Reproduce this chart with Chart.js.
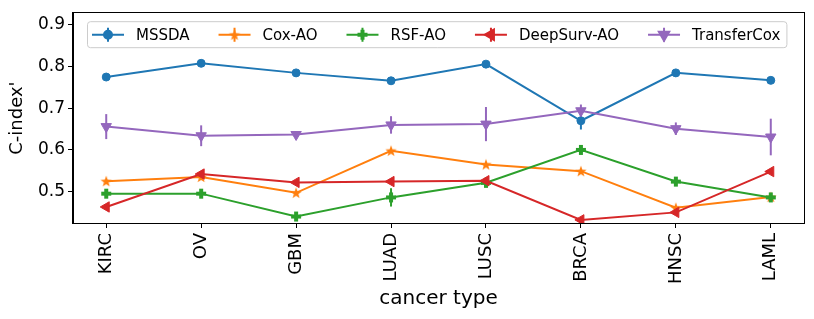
<!DOCTYPE html>
<html>
<head>
<meta charset="utf-8">
<script src="https://cdn.jsdelivr.net/npm/chart.js@4.4.0/dist/chart.umd.min.js"></script>
<style>
  html, body { margin: 0; padding: 0; background: #fff; }
</style>
</head>
<body>
<canvas id="cindex-chart" width="814" height="319"></canvas>
<script>
const cancerTypes = ['KIRC', 'OV', 'GBM', 'LUAD', 'LUSC', 'BRCA', 'HNSC', 'LAML'];

const mssda = [0.775, 0.808, 0.785, 0.766, 0.806, 0.670, 0.785, 0.767];
const mssdaErr = [0.004, 0.004, 0.004, 0.004, 0.004, 0.021, 0.004, 0.004];
const coxAO = [0.525, 0.535, 0.497, 0.598, 0.565, 0.549, 0.461, 0.487];
const coxAOErr = [0.004, 0.004, 0.004, 0.004, 0.004, 0.004, 0.004, 0.004];
const rsfAO = [0.495, 0.495, 0.440, 0.486, 0.521, 0.600, 0.524, 0.486];
const rsfAOErr = [0.005, 0.005, 0.005, 0.022, 0.006, 0.006, 0.005, 0.005];
const deepSurvAO = [0.463, 0.542, 0.522, 0.524, 0.526, 0.432, 0.450, 0.548];
const deepSurvAOErr = [0.003, 0.003, 0.003, 0.003, 0.003, 0.003, 0.003, 0.003];
const transferCox = [0.656, 0.634, 0.637, 0.660, 0.662, 0.694, 0.651, 0.631];
const transferCoxErr = [0.030, 0.025, 0.005, 0.021, 0.041, 0.015, 0.015, 0.044];

const yTicks = [0.5, 0.6, 0.7, 0.8, 0.9];

const FONT = '"DejaVu Sans", sans-serif';

// filled marker shapes that chart.js doesn't have
function starMarker(color) {
  const c = document.createElement('canvas');
  c.width = 14; c.height = 14;
  const g = c.getContext('2d');
  g.fillStyle = color;
  g.beginPath();
  for (let i = 0; i < 10; i++) {
    const r = i % 2 === 0 ? 6 : 2.4;
    const a = -Math.PI / 2 + i * Math.PI / 5;
    g.lineTo(7 + r * Math.cos(a), 7.5 + r * Math.sin(a));
  }
  g.closePath();
  g.fill();
  return c;
}

function plusMarker(color) {
  const c = document.createElement('canvas');
  c.width = 12; c.height = 12;
  const g = c.getContext('2d');
  g.fillStyle = color;
  g.fillRect(4, 1, 4, 10);
  g.fillRect(1, 4, 10, 4);
  return c;
}

const toPoints = (vals) => vals.map((v, i) => ({ x: i, y: v }));

const series = [
  { label: 'MSSDA', data: mssda, errors: mssdaErr, color: '#1f77b4', style: 'circle', radius: 4, rotation: 0 },
  { label: 'Cox-AO', data: coxAO, errors: coxAOErr, color: '#ff7f0e', style: starMarker('#ff7f0e'), radius: 6, rotation: 0 },
  { label: 'RSF-AO', data: rsfAO, errors: rsfAOErr, color: '#2ca02c', style: plusMarker('#2ca02c'), radius: 6, rotation: 0 },
  { label: 'DeepSurv-AO', data: deepSurvAO, errors: deepSurvAOErr, color: '#d62728', style: 'triangle', radius: 6, rotation: -90 },
  { label: 'TransferCox', data: transferCox, errors: transferCoxErr, color: '#9467bd', style: 'triangle', radius: 6, rotation: 180 }
];

const errorBars = {
  id: 'errorBars',
  beforeDatasetsDraw(chart) {
    const { ctx, scales: { x, y } } = chart;
    ctx.save();
    ctx.lineWidth = 2;
    chart.data.datasets.forEach((ds) => {
      ctx.strokeStyle = ds.borderColor;
      ds.data.forEach((p, i) => {
        const e = ds.errors[i];
        const px = x.getPixelForValue(p.x);
        ctx.beginPath();
        ctx.moveTo(px, y.getPixelForValue(p.y - e));
        ctx.lineTo(px, y.getPixelForValue(p.y + e));
        ctx.stroke();
      });
    });
    ctx.restore();
  }
};

const frame = {
  id: 'frame',
  afterDraw(chart) {
    const { ctx, chartArea: a } = chart;
    ctx.save();
    ctx.strokeStyle = '#000';
    ctx.lineWidth = 1;
    ctx.strokeRect(Math.round(a.left) - 0.5, Math.round(a.top) - 0.5, Math.round(a.right - a.left) + 1, Math.round(a.bottom - a.top) + 1);
    ctx.restore();
  }
};

// matplotlib-like legend: line + marker + errorbar tick, all in one row
const lineLegend = {
  id: 'lineLegend',
  afterDatasetsDraw(chart) {
    const { ctx, chartArea: a } = chart;
    const dsets = chart.data.datasets;
    ctx.save();
    ctx.font = '15px ' + FONT;
    const lineLen = 32, gapText = 12, gapEntry = 29, padL = 5, padR = 6;
    const widths = dsets.map(ds => ctx.measureText(ds.label).width);
    let total = padL + padR + gapEntry * (dsets.length - 1);
    widths.forEach(w => { total += lineLen + gapText + w; });
    const left = a.left + 14, top = a.top + 8, h = 26;

    ctx.fillStyle = 'rgba(255,255,255,0.8)';
    ctx.strokeStyle = '#cccccc';
    ctx.lineWidth = 1;
    ctx.beginPath();
    ctx.roundRect(left + 0.5, top + 0.5, total, h, 3);
    ctx.fill();
    ctx.stroke();

    const cy = top + h / 2 + 0.5;
    let x = left + padL;
    dsets.forEach((ds, i) => {
      ctx.strokeStyle = ds.borderColor;
      ctx.lineWidth = 2;
      ctx.beginPath();
      ctx.moveTo(x, cy);
      ctx.lineTo(x + lineLen, cy);
      ctx.moveTo(x + lineLen / 2, cy - 7);
      ctx.lineTo(x + lineLen / 2, cy + 7);
      ctx.stroke();
      ctx.fillStyle = ds.backgroundColor;
      Chart.helpers.drawPoint(ctx, {
        pointStyle: ds.pointStyle,
        radius: ds.pointRadius,
        rotation: ds.pointRotation,
        borderWidth: 1
      }, x + lineLen / 2, cy);
      ctx.fillStyle = '#000';
      ctx.textBaseline = 'middle';
      ctx.textAlign = 'left';
      ctx.fillText(ds.label, x + lineLen + gapText, cy + 1);
      x += lineLen + gapText + widths[i] + gapEntry;
    });
    ctx.restore();
  }
};

new Chart(document.getElementById('cindex-chart'), {
  type: 'line',
  data: {
    datasets: series.map((s, i) => ({
      label: s.label,
      data: toPoints(s.data),
      errors: s.errors,
      borderColor: s.color,
      backgroundColor: s.color,
      borderWidth: 2,
      pointStyle: s.style,
      pointRadius: s.radius,
      pointRotation: s.rotation,
      pointBorderWidth: 1,
      pointBackgroundColor: s.color,
      pointBorderColor: s.color,
      tension: 0,
      order: series.length - i
    }))
  },
  options: {
    responsive: false,
    animation: false,
    devicePixelRatio: 1,
    layout: { padding: { top: 9, right: 10, left: 0, bottom: 0 } },
    plugins: {
      legend: { display: false },
      tooltip: { enabled: false }
    },
    scales: {
      x: {
        type: 'linear',
        min: -0.35,
        max: 7.35,
        afterBuildTicks: (scale) => { scale.ticks = cancerTypes.map((_, i) => ({ value: i })); },
        afterFit: (scale) => { scale.height = 96; },
        grid: { drawOnChartArea: false, drawTicks: true, tickLength: 5, color: '#000' },
        border: { display: true, color: '#000' },
        ticks: {
          minRotation: 90,
          maxRotation: 90,
          padding: 5,
          color: '#000',
          font: { family: FONT, size: 18 },
          callback: (v) => cancerTypes[v]
        },
        title: {
          display: true,
          text: 'cancer type',
          color: '#000',
          font: { family: FONT, size: 20 },
          padding: { top: 0, bottom: 8 }
        }
      },
      y: {
        min: 0.4245,
        max: 0.9283,
        afterBuildTicks: (scale) => { scale.ticks = yTicks.map(v => ({ value: v })); },
        afterFit: (scale) => { scale.width = 73; },
        grid: { drawOnChartArea: false, drawTicks: true, tickLength: 5, color: '#000' },
        border: { display: true, color: '#000' },
        ticks: {
          padding: 3,
          color: '#000',
          font: { family: FONT, size: 17 },
          callback: (v) => v.toFixed(1)
        },
        title: {
          display: true,
          text: "C-index'",
          color: '#000',
          font: { family: FONT, size: 18 },
          padding: { top: 7, bottom: 0 }
        }
      }
    }
  },
  plugins: [errorBars, lineLegend, frame]
});
</script>
</body>
</html>
